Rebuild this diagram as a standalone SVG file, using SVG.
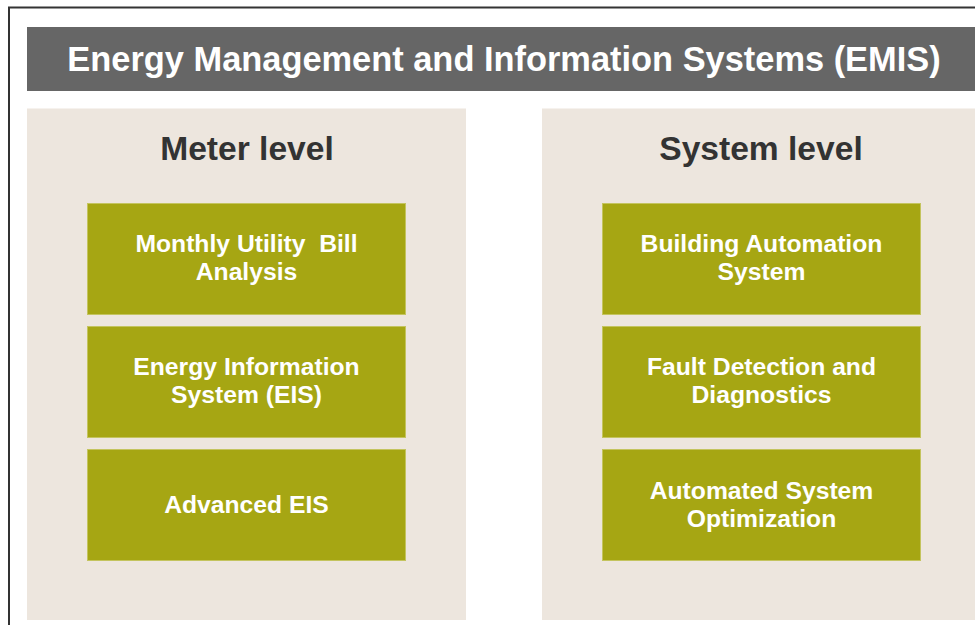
<svg xmlns="http://www.w3.org/2000/svg" width="975" height="625" viewBox="0 0 975 625">
  <style>
    .panel { fill: #ede6de; }
    .box { fill: #a6a613; stroke: #c4c45e; stroke-width: 1; }
    .boxtxt { font-family: "Liberation Sans", Arial, sans-serif; font-weight: bold; font-size: 24.7px; fill: #ffffff; text-anchor: middle; }
    .head { font-family: "Liberation Sans", Arial, sans-serif; font-weight: bold; font-size: 33.6px; fill: #333333; text-anchor: middle; }
    .title { font-family: "Liberation Sans", Arial, sans-serif; font-weight: bold; font-size: 34.4px; fill: #ffffff; text-anchor: middle; }
  </style>
  <rect x="0" y="0" width="975" height="625" fill="#ffffff"/>
  <rect x="9" y="7.5" width="1000" height="700" fill="#ffffff" stroke="#333333" stroke-width="2"/>

  <g id="title">
    <rect x="27" y="27" width="948" height="64" fill="#666666"/>
    <text class="title" x="504" y="70.5">Energy Management and Information Systems (EMIS)</text>
  </g>

  <g id="meter-level">
    <rect class="panel" x="27" y="108.5" width="439" height="511.5"/>
    <text class="head" x="247" y="159.5">Meter level</text>
  </g>

  <g id="system-level">
    <rect class="panel" x="542" y="108.5" width="433" height="511.5"/>
    <text class="head" x="761" y="159.5">System level</text>
  </g>

  <g id="monthly-utility-bill">
    <rect class="box" x="87.5" y="203.5" width="318" height="111"/>
    <text class="boxtxt" x="246.5" y="252">Monthly Utility&#160; Bill</text>
    <text class="boxtxt" x="246.5" y="280">Analysis</text>
  </g>

  <g id="eis">
    <rect class="box" x="87.5" y="326.5" width="318" height="111"/>
    <text class="boxtxt" x="246.5" y="375">Energy Information</text>
    <text class="boxtxt" x="246.5" y="403">System (EIS)</text>
  </g>

  <g id="advanced-eis">
    <rect class="box" x="87.5" y="449.5" width="318" height="111"/>
    <text class="boxtxt" x="246.5" y="513">Advanced EIS</text>
  </g>

  <g id="bas">
    <rect class="box" x="602.5" y="203.5" width="318" height="111"/>
    <text class="boxtxt" x="761.5" y="252">Building Automation</text>
    <text class="boxtxt" x="761.5" y="280">System</text>
  </g>

  <g id="fdd">
    <rect class="box" x="602.5" y="326.5" width="318" height="111"/>
    <text class="boxtxt" x="761.5" y="375">Fault Detection and</text>
    <text class="boxtxt" x="761.5" y="403">Diagnostics</text>
  </g>

  <g id="aso">
    <rect class="box" x="602.5" y="449.5" width="318" height="111"/>
    <text class="boxtxt" x="761.5" y="499">Automated System</text>
    <text class="boxtxt" x="761.5" y="527">Optimization</text>
  </g>
</svg>
